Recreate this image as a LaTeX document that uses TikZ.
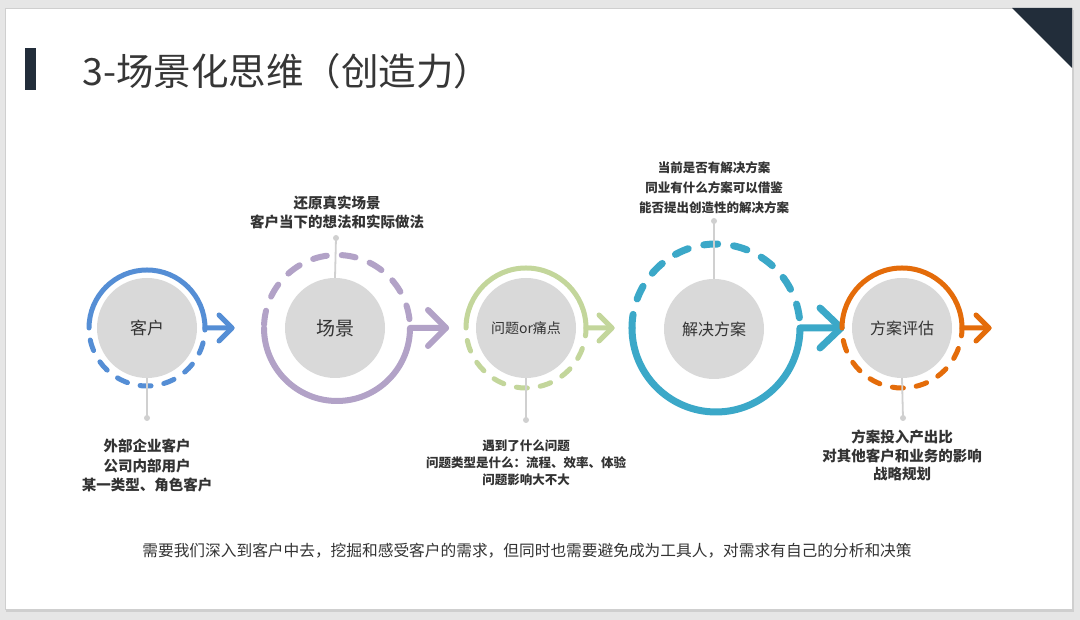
\documentclass[tikz,border=0pt]{standalone}
\usepackage{fontspec}
\setmainfont{Noto Sans CJK SC}
\definecolor{bggray}{HTML}{E6E6E6}
\definecolor{shadowgray}{HTML}{CFCFCF}
\definecolor{navy}{HTML}{222D3A}
\definecolor{titlec}{HTML}{363636}
\definecolor{textc}{HTML}{333333}
\definecolor{diskc}{HTML}{D9D9D9}
\definecolor{stemc}{HTML}{D0D0D0}
\definecolor{cblue}{RGB}{85,142,213}
\definecolor{cpurple}{RGB}{178,162,199}
\definecolor{cgreen}{RGB}{195,214,155}
\definecolor{cteal}{RGB}{59,168,200}
\definecolor{corange}{RGB}{228,108,10}
\begin{document}
\begin{tikzpicture}[x=1pt,y=1pt,
  ringline/.style={line cap=round, line join=round},
  disk/.style={circle, fill=diskc, minimum size=100pt, inner sep=0pt, text=textc},
  stem/.style={stemc, line width=1.8pt},
  stemdot/.style={fill=stemc},
  lab/.style={text=textc, align=center, font=\fontsize{14.5}{19.5}\selectfont\bfseries},
  labsmall/.style={text=textc, align=center, font=\fontsize{12.5}{17}\selectfont\bfseries}]
\useasboundingbox (0,0) rectangle (1080,620);
% background and slide
\fill[bggray] (0,0) rectangle (1080,620);
\fill[shadowgray] (6,8) rectangle (1074,610);
\fill[white] (5,11) rectangle (1072,612);
\draw[shadowgray, line width=0.6pt] (5,11) rectangle (1072,612);
\fill[navy] (1012,612) -- (1072,612) -- (1072,552) -- cycle;
% title
\fill[navy] (25,530) rectangle (36,572);
\node[anchor=west, text=titlec, font=\fontsize{37.5}{44}\selectfont, inner sep=0pt] (title) at (82,549) {3-场景化思维（创造力）};

% ---------- circle 1 : 客户 ----------
\node[disk, font=\fontsize{17}{20}\selectfont] (d1) at (147,292) {客户};
\draw[ringline, cblue, line width=5pt] (147,292) ++(180:58) arc[start angle=180, end angle=0, radius=58] -- (232,292);
\draw[ringline, cblue, line width=5pt] (219,305) -- (232,292) -- (219,279);
\draw[ringline, cblue, line width=5pt, dash pattern=on 11pt off 13pt] (147,292) ++(192:58) arc[start angle=192, end angle=360, radius=58];
\coordinate (p1) at (147,202);
\draw[stem] (d1.south) -- (p1);
\fill[stemdot] (p1) circle (3);
\node[lab] (t1) at (147,154.5) {外部企业客户\\公司内部用户\\某一类型、角色客户};

% ---------- circle 2 : 场景 ----------
\node[disk, font=\fontsize{19}{22}\selectfont] (d2) at (335,292) {场景};
\draw[ringline, cpurple, line width=6pt] (337,292) ++(180:73) arc[start angle=180, end angle=360, radius=73] -- (446,292);
\draw[ringline, cpurple, line width=6pt] (428,310) -- (446,292) -- (428,274);
\draw[ringline, cpurple, line width=6pt, dash pattern=on 14pt off 15pt] (337,292) ++(7:73) arc[start angle=7, end angle=180, radius=73];
\coordinate (p2) at (336,382);
\draw[stem] (d2.north) -- (p2);
\fill[stemdot] (p2) circle (3);
\node[lab] (t2) at (337,407.5) {还原真实场景\\客户当下的想法和实际做法};

% ---------- circle 3 : 问题or痛点 ----------
\node[disk, font=\fontsize{14}{17}\selectfont] (d3) at (526,292) {问题or痛点};
\draw[ringline, cgreen, line width=5pt] (526,292) ++(180:60) arc[start angle=180, end angle=0, radius=60] -- (612,292);
\draw[ringline, cgreen, line width=5pt] (599,305) -- (612,292) -- (599,279);
\draw[ringline, cgreen, line width=5pt, dash pattern=on 11pt off 13pt] (526,292) ++(192:60) arc[start angle=192, end angle=360, radius=60];
\coordinate (p3) at (526,200);
\draw[stem] (d3.south) -- (p3);
\fill[stemdot] (p3) circle (3);
\node[labsmall] (t3) at (526,157) {遇到了什么问题\\问题类型是什么：流程、效率、体验\\问题影响大不大};

% ---------- circle 4 : 解决方案 ----------
\node[disk, font=\fontsize{16}{19}\selectfont] (d4) at (714,291) {解决方案};
\draw[ringline, cteal, line width=7pt] (716,292) ++(180:84) arc[start angle=180, end angle=360, radius=84] -- (841,292);
\draw[ringline, cteal, line width=7pt] (820,312) -- (841,292) -- (820,272);
\draw[ringline, cteal, line width=7pt, dash pattern=on 14pt off 16pt] (716,292) ++(7:84) arc[start angle=7, end angle=180, radius=84];
\coordinate (p4) at (714,399);
\draw[stem] (d4.north) -- (p4);
\fill[stemdot] (p4) circle (3);
\node[labsmall, font=\fontsize{12.5}{20}\selectfont\bfseries] (t4) at (714,432) {当前是否有解决方案\\同业有什么方案可以借鉴\\能否提出创造性的解决方案};

% ---------- circle 5 : 方案评估 ----------
\node[disk, font=\fontsize{16}{19}\selectfont] (d5) at (902,292) {方案评估};
\draw[ringline, corange, line width=5pt] (902,292) ++(180:60) arc[start angle=180, end angle=0, radius=60] -- (989,292);
\draw[ringline, corange, line width=5pt] (976,305) -- (989,292) -- (976,279);
\draw[ringline, corange, line width=5pt, dash pattern=on 11pt off 13pt] (902,292) ++(192:60) arc[start angle=192, end angle=360, radius=60];
\coordinate (p5) at (903,202);
\draw[stem] (d5.south) -- (p5);
\fill[stemdot] (p5) circle (3);
\node[lab, font=\fontsize{14.5}{18.5}\selectfont\bfseries] (t5) at (902,164.5) {方案投入产出比\\对其他客户和业务的影响\\战略规划};

% bottom sentence
\node[text=textc, font=\fontsize{15.7}{19}\selectfont] (note) at (527,69) {需要我们深入到客户中去，挖掘和感受客户的需求，但同时也需要避免成为工具人，对需求有自己的分析和决策};
\end{tikzpicture}
\end{document}
